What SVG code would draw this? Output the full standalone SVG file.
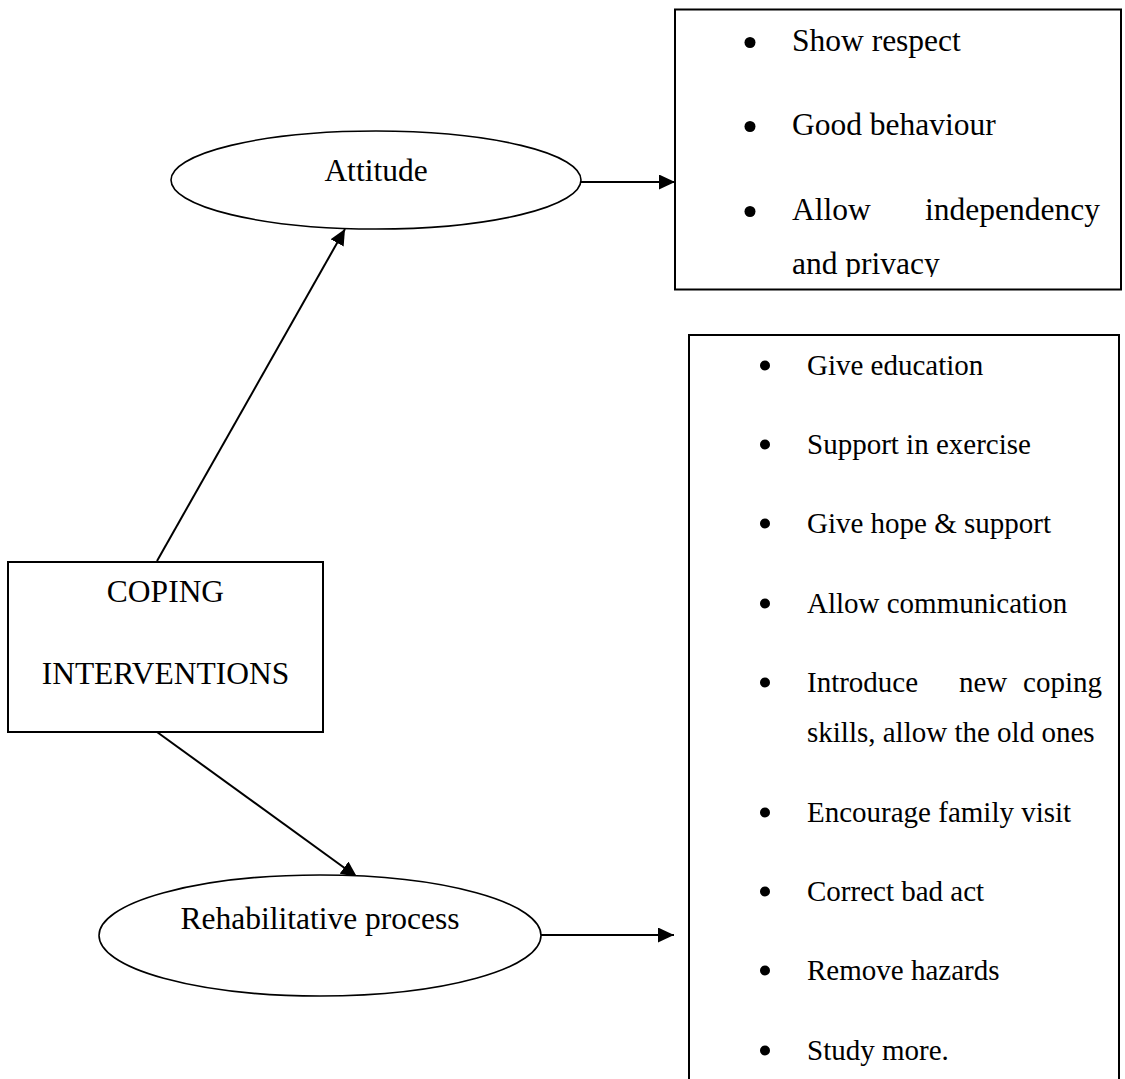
<svg xmlns="http://www.w3.org/2000/svg" width="1125" height="1079" viewBox="0 0 1125 1079">
<style>
.shape{fill:#fff;stroke:#000;stroke-width:2}
.ell{fill:#fff;stroke:#000;stroke-width:1.6}
.t{font-family:"Liberation Serif","Times New Roman",serif;font-size:31.5px;fill:#000}
.s{font-family:"Liberation Serif","Times New Roman",serif;font-size:29px;fill:#000}
.edge{stroke:#000;stroke-width:2;fill:none;marker-end:url(#arr)}
</style>
<defs>
<marker id="arr" markerUnits="userSpaceOnUse" markerWidth="16" markerHeight="15" refX="16" refY="7.5" orient="auto">
<path d="M0,0 L16,7.5 L0,15 Z" fill="#000"/>
</marker>
<clipPath id="clipTop"><rect x="676" y="10" width="444" height="267"/></clipPath>
</defs>
<rect width="1125" height="1079" fill="#fff"/>
<g id="connectors">
<line class="edge" x1="157" y1="561" x2="345" y2="229"/>
<line class="edge" x1="157" y1="732" x2="357" y2="877"/>
<line class="edge" x1="581" y1="182" x2="675" y2="182"/>
<line class="edge" x1="541" y1="935" x2="674" y2="935"/>
</g>
<g id="attitude">
<ellipse class="ell" cx="376" cy="180" rx="205" ry="49"/>
<text class="t" x="376" y="181" text-anchor="middle">Attitude</text>
</g>
<g id="coping">
<rect class="shape" x="8" y="562" width="315" height="170"/>
<text class="t" x="165.5" y="602" text-anchor="middle">COPING</text>
<text class="t" x="165.5" y="684" text-anchor="middle">INTERVENTIONS</text>
</g>
<g id="rehab">
<ellipse class="ell" cx="320" cy="935.5" rx="221" ry="60.5"/>
<text class="t" x="320" y="929" text-anchor="middle">Rehabilitative process</text>
</g>
<g id="attitude-list">
<rect class="shape" x="675" y="9.5" width="446" height="280"/>
<g clip-path="url(#clipTop)">
<circle cx="750" cy="42.5" r="5.5"/>
<text class="t" x="792" y="51">Show respect</text>
<circle cx="750" cy="126.5" r="5.5"/>
<text class="t" x="792" y="135">Good behaviour</text>
<circle cx="750" cy="211.5" r="5.5"/>
<text class="t" x="792" y="220">Allow</text>
<text class="t" x="1100" y="220" text-anchor="end">independency</text>
<text class="t" x="792" y="274">and privacy</text>
</g>
</g>
<g id="rehab-list">
<rect class="shape" x="689" y="335" width="430" height="745"/>
<circle cx="765" cy="365.5" r="5"/>
<text class="s" x="807" y="375">Give education</text>
<circle cx="765" cy="444.5" r="5"/>
<text class="s" x="807" y="454">Support in exercise</text>
<circle cx="765" cy="523.5" r="5"/>
<text class="s" x="807" y="533">Give hope &amp; support</text>
<circle cx="765" cy="603.5" r="5"/>
<text class="s" x="807" y="613">Allow communication</text>
<circle cx="765" cy="682.5" r="5"/>
<text class="s" x="807" y="692">Introduce</text>
<text class="s" x="959" y="692">new</text>
<text class="s" x="1102" y="692" text-anchor="end">coping</text>
<text class="s" x="807" y="742">skills, allow the old ones</text>
<circle cx="765" cy="812.5" r="5"/>
<text class="s" x="807" y="822">Encourage family visit</text>
<circle cx="765" cy="891.5" r="5"/>
<text class="s" x="807" y="901">Correct bad act</text>
<circle cx="765" cy="970.5" r="5"/>
<text class="s" x="807" y="980">Remove hazards</text>
<circle cx="765" cy="1050.5" r="5"/>
<text class="s" x="807" y="1060">Study more.</text>
</g>
</svg>
